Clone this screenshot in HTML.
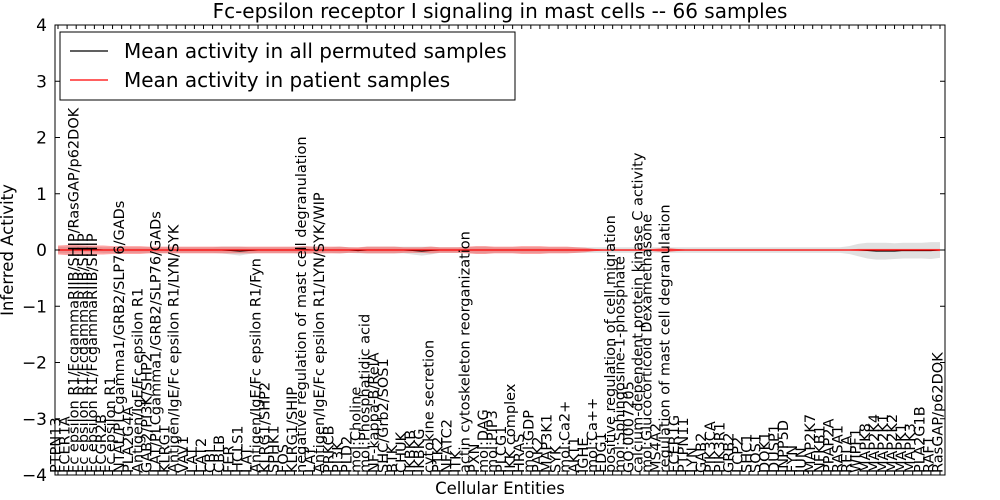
<!DOCTYPE html>
<html><head><meta charset="utf-8"><style>
html,body{margin:0;padding:0;background:#fff}
svg{display:block;font-family:"DejaVu Sans","Liberation Sans",sans-serif}
</style></head><body>
<svg id="chart" width="1000" height="500" xmlns="http://www.w3.org/2000/svg">
<text x="500" y="18" text-anchor="middle" font-size="20">Fc-epsilon receptor I signaling in mast cells -- 66 samples</text>
<text transform="translate(13,250) rotate(-90)" text-anchor="middle" font-size="16.5">Inferred Activity</text>
<text x="500" y="494" text-anchor="middle" font-size="16.5">Cellular Entities</text>
<g id="bands"></g>
<g id="lines"></g>
<g id="axes"></g>
<g id="xlabels"></g>
<g>
<rect x="60" y="32" width="455" height="68" fill="#fff" stroke="#000" stroke-width="1"/>
<line x1="70" y1="51" x2="108" y2="51" stroke="#000" stroke-width="1.2"/>
<text x="124" y="58" font-size="20">Mean activity in all permuted samples</text>
<line x1="70" y1="80" x2="108" y2="80" stroke="#f00" stroke-width="1.2"/>
<text x="124" y="87" font-size="20">Mean activity in patient samples</text>
</g>
</svg>
<script>
const labels=["PTPN13","FCER1A","Fc epsilon R1/FcgammaRIIB/SHIP/RasGAP/p62DOK","Fc epsilon R1/FcgammaRIIB/SHIP","Fc epsilon R1/FcgammaRIIB/SHIP","FCGR2B","Fc epsilon R1","NTAL/PLCgamma1/GRB2/SLP76/GADs","PLA2G4A","Antigen/IgE/Fc epsilon R1","GAB2/PI3K/SHP2","LAT/PLCgamma1/GRB2/SLP76/GADs","KLRG1","Antigen/IgE/Fc epsilon R1/LYN/SYK","VAV1","LAT","LAT2","CBL","CBLB","FER","HCLS1","LAT","Antigen/IgE/Fc epsilon R1/Fyn","KLRG1/SHP2","SPHK1","FOS","KLRG1/SHIP","negative regulation of mast cell degranulation","LAT","Antigen/IgE/Fc epsilon R1/LYN/SYK/WIP","PRKCB","PI3K","PLD2","mol:Choline","mol:Phosphatidic acid","NF-kappa-B/RelA","SHC/Grb2/SOS1","BTK","CHUK","IKBKB","IKBKG","cytokine secretion","PTK2","NFATC2","ITK","actin cytoskeleton reorganization","PXN","mol:DAG","mol:PIP3","PLCG1","IKK complex","HRAS","mol:GDP","PAK2","MAP3K1","SYK","mol:Ca2+","AKT1","IGHE","mol:Ca++","EDG1","positive regulation of cell migration","mol:Sphingosine-1-phosphate","GO:0007205","calcium-dependent protein kinase C activity","mol:Glucocorticoid Dexamethasone","MS4A2","regulation of mast cell degranulation","FCER1G","PTPN11","LYN","GAB2","PIK3CA","PIK3R1","GRB2","LCP2","SHC1","SOS1","DOK1","DUSP1","INPP5D","FYN","JUN","MAP2K7","NFKB1","PPAP2A","RASA1","RELA","WIPF1","MAPK8","MAP2K4","MAP2K1","MAP2K2","MAPK1","MAPK3","PLA2G1B","RAF1","RasGAP/p62DOK"];
const yTicks=[-4,-3,-2,-1,0,1,2,3,4];
const patMean=[0,0,0,0,0,0,0,0,0,0,0,0,0,0,0,0,0,0,0,0,0,0,0,0,0,0,0,0,0,0,0,0,0,0,0,0,0,0,0,0,0,0,0,0,0,0,0,0,0,0,0,0,0,0,0,0,0,0,0,0,0,0,0,0,0,0,0,0,0,0,0,0,0,0,0,0,0,0,0,0,0,0,0,0,0,0,0,0,0,0,0,0,0,0,0,0,0,0];
const patSd=[0.08,0.09,0.09,0.08,0.08,0.08,0.07,0.07,0.07,0.07,0.06,0.06,0.06,0.06,0.06,0.06,0.06,0.06,0.06,0.06,0.06,0.06,0.06,0.06,0.06,0.06,0.06,0.07,0.06,0.06,0.06,0.06,0.05,0.05,0.06,0.06,0.06,0.06,0.05,0.05,0.05,0.06,0.05,0.05,0.05,0.06,0.07,0.07,0.06,0.06,0.06,0.07,0.07,0.07,0.06,0.06,0.06,0.05,0.04,0.02,0.01,0.01,0.01,0.01,0.01,0.01,0.03,0.04,0.02,0.01,0.01,0.01,0.01,0.01,0.01,0.01,0.01,0.01,0.01,0.01,0.01,0.01,0.01,0.01,0.01,0.01,0.01,0.01,0.02,0.02,0.02,0.02,0.02,0.02,0.02,0.02,0.02,0.02];
const permMean=[0,0,0.01,0.02,0.01,0,0,0,0,0,0,0,0,0,0,0,0,0,0,-0.01,-0.02,-0.01,0,0,0,0,0,0.01,0,0,0,0,0,-0.01,0,0,0,0,0,-0.01,-0.02,-0.01,0,0,0,0,0,0,0,0,0,0,0,0,0,0,0,0,0,0,0,0,0,0,0,0,0,0,0,0,0,0,0,0,0,0,0,0,0,0,0,0,0,0,0,0,0,0,0,-0.01,-0.02,-0.02,-0.02,-0.01,-0.01,-0.01,-0.01,0];
const permSd=[0.06,0.06,0.06,0.06,0.05,0.05,0.05,0.05,0.05,0.05,0.05,0.05,0.05,0.05,0.05,0.05,0.05,0.05,0.06,0.07,0.08,0.06,0.05,0.05,0.05,0.05,0.05,0.06,0.06,0.06,0.05,0.06,0.05,0.05,0.06,0.06,0.06,0.06,0.06,0.07,0.08,0.07,0.05,0.05,0.05,0.05,0.06,0.06,0.05,0.05,0.05,0.05,0.05,0.05,0.05,0.05,0.05,0.05,0.05,0.05,0.05,0.05,0.05,0.05,0.05,0.05,0.05,0.05,0.05,0.05,0.05,0.05,0.05,0.05,0.05,0.05,0.05,0.05,0.05,0.05,0.05,0.05,0.05,0.05,0.05,0.05,0.05,0.07,0.11,0.14,0.15,0.15,0.14,0.14,0.14,0.14,0.15,0.14];

const L=55,R=945,T=25,B=475,NS="http://www.w3.org/2000/svg";
const xS=i=>58+i*(940-58)/(labels.length-1);
const yS=v=>T+(4-v)/8*(B-T);
function mk(tag,attrs,parent){const e=document.createElementNS(NS,tag);for(const k in attrs)e.setAttribute(k,attrs[k]);parent.appendChild(e);return e;}
function band(mean,sd){let up=mean.map((m,i)=>xS(i)+","+yS(m+sd[i]));let dn=mean.map((m,i)=>xS(i)+","+yS(m-sd[i])).reverse();return up.concat(dn).join(" ");}
const bands=document.getElementById('bands'),lines=document.getElementById('lines'),axes=document.getElementById('axes'),xl=document.getElementById('xlabels');
let e=mk('polygon',{points:band(permMean,permSd),fill:'#000','fill-opacity':0.12},bands);


e=mk('polygon',{points:band(patMean,patSd),fill:'#f00','fill-opacity':0.35},bands);


e=mk('line',{x1:L,x2:R,y1:yS(0),y2:yS(0),stroke:'#000','stroke-width':1,'stroke-dasharray':'1.5,3'},lines);


e=mk('polyline',{points:permMean.map((m,i)=>xS(i)+","+yS(m)).join(" "),fill:'none',stroke:'#000','stroke-width':1},lines);


e=mk('polyline',{points:patMean.map((m,i)=>xS(i)+","+yS(m)).join(" "),fill:'none',stroke:'#f00','stroke-width':1.2},lines);


e=mk('rect',{x:L,y:T,width:R-L,height:B-T,fill:'none',stroke:'#000','stroke-width':1},axes);


yTicks.forEach(v=>{
 mk('line',{x1:L,x2:L+5,y1:yS(v),y2:yS(v),stroke:'#000'},axes);
 mk('line',{x1:R-5,x2:R,y1:yS(v),y2:yS(v),stroke:'#000'},axes);
 const t=mk('text',{x:L-8,y:yS(v)+6,'text-anchor':'end','font-size':17},axes);
 
 
 t.textContent=v<0?'\u2212'+(-v):String(v);
});
labels.forEach((s,i)=>{
 mk('line',{x1:xS(i),x2:xS(i),y1:B,y2:B-4,stroke:'#000'},axes);
 mk('line',{x1:xS(i),x2:xS(i),y1:T,y2:T+4,stroke:'#000'},axes);
 const t=mk('text',{transform:`translate(${xS(i)+2.5},${B-2}) rotate(-90)`,'font-size':14.5},xl);
 
 
 t.textContent=s;
});
</script>
</body></html>
